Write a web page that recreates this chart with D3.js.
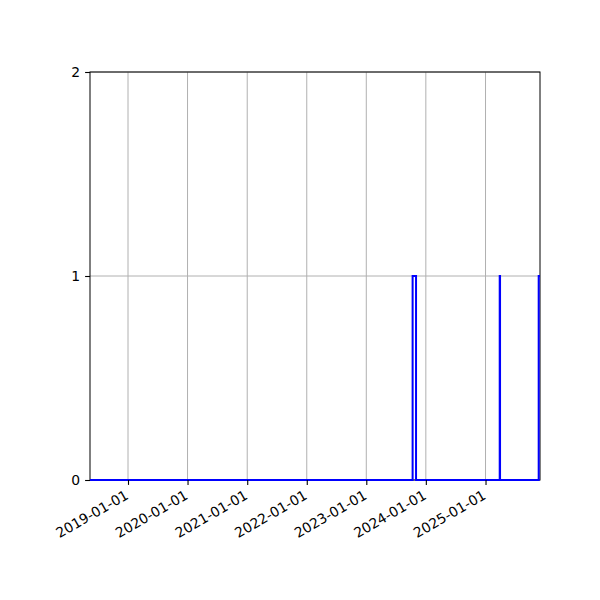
<!DOCTYPE html>
<html>
<head>
<meta charset="utf-8">
<script src="https://cdn.jsdelivr.net/npm/d3@7"></script>
<style>
body { margin: 0; background: #fff; }
text { font-family: "DejaVu Sans", sans-serif; font-size: 13.9px; fill: #000; }
</style>
</head>
<body>
<script>
// step series: value holds from each date until the next one
var dates = ["2018-05-13", "2023-10-12", "2023-11-02", "2025-03-29", "2025-03-31", "2025-11-23", "2025-12-01"]
var values = [0, 1, 0, 1, 0, 1, 1]
var xTicks = ["2019-01-01", "2020-01-01", "2021-01-01", "2022-01-01", "2023-01-01", "2024-01-01", "2025-01-01"]
var yTicks = [0, 1, 2]

var parse = d3.utcParse("%Y-%m-%d")
var data = dates.map(function(d, i){ return {date: parse(d), value: values[i]} })

var mLeft = 90, mRight = 540, mTop = 72, mBottom = 480

var svg = d3.select("body").append("svg")
    .attr("width", 600)
    .attr("height", 600)

var xScale = d3.scaleUtc()
    .domain(d3.extent(data, function(d){ return d.date }))
    .range([mLeft, mRight])

var yScale = d3.scaleLinear()
    .domain([0, 2])
    .range([mBottom, mTop])

// grid
svg.append("g").selectAll("line")
    .data(xTicks)
    .enter().append("line")
    .attr("x1", function(d){ return xScale(parse(d)) })
    .attr("x2", function(d){ return xScale(parse(d)) })
    .attr("y1", mTop).attr("y2", mBottom)
    .attr("stroke", "#b0b0b0").attr("stroke-width", 1)

svg.append("g").selectAll("line")
    .data(yTicks)
    .enter().append("line")
    .attr("x1", mLeft).attr("x2", mRight)
    .attr("y1", function(d){ return yScale(d) })
    .attr("y2", function(d){ return yScale(d) })
    .attr("stroke", "#b0b0b0").attr("stroke-width", 1)

// frame
svg.append("rect")
    .attr("x", mLeft).attr("y", mTop)
    .attr("width", mRight - mLeft).attr("height", mBottom - mTop)
    .attr("fill", "none")
    .attr("stroke", "#000")
    .attr("stroke-width", 1)

// series
var line = d3.line()
    .x(function(d){ return xScale(d.date) })
    .y(function(d){ return yScale(d.value) })
    .curve(d3.curveStepAfter)

svg.append("path")
    .datum(data)
    .attr("d", line)
    .attr("fill", "none")
    .attr("stroke", "#0000ff")
    .attr("stroke-width", 2)

// axes
var xAxis = d3.axisBottom(xScale)
    .tickValues(xTicks.map(parse))
    .tickFormat(d3.utcFormat("%Y-%m-%d"))
    .tickSize(4.9)
    .tickSizeOuter(0)
    .tickPadding(4.9)

var gx = svg.append("g")
    .attr("transform", "translate(0," + mBottom + ")")
    .call(xAxis)
gx.select(".domain").remove()
gx.selectAll(".tick line").attr("stroke", "#000").attr("stroke-width", 1.1)
gx.selectAll(".tick text")
    .attr("font-size", null).attr("font-family", null)
    .attr("text-anchor", "end")
    .attr("y", 0).attr("dy", null)
    .attr("transform", "translate(1,18) rotate(-30)")

var yAxis = d3.axisLeft(yScale)
    .tickValues(yTicks)
    .tickFormat(d3.format("d"))
    .tickSize(4.9)
    .tickSizeOuter(0)
    .tickPadding(4.9)

var gy = svg.append("g")
    .attr("transform", "translate(" + mLeft + ",0)")
    .call(yAxis)
gy.select(".domain").remove()
gy.selectAll(".tick line").attr("stroke", "#000").attr("stroke-width", 1.1)
gy.selectAll(".tick text").attr("font-size", null).attr("font-family", null)
</script>
</body>
</html>
